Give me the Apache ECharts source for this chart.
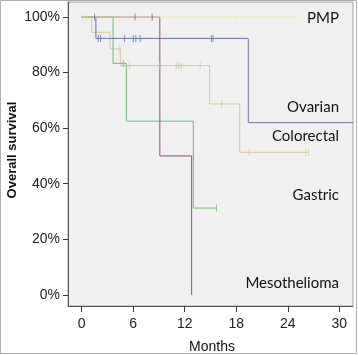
<!DOCTYPE html>
<html><head><meta charset="utf-8">
<script src="https://cdn.jsdelivr.net/npm/echarts@6/dist/echarts.min.js"></script>
<style>html,body{margin:0;padding:0;background:#fff}#c{width:358px;height:355px}</style>
</head><body><div id="c"></div>
<script>
// ---- data (months, overall survival %) ----
const xTicks = [0, 6, 12, 18, 24, 30];
const yTicks = [0, 20, 40, 60, 80, 100];

const pmpTimes = [0, 25.2];
const pmpSurv = [100, 100];
const pmpCensor = [0.2, 0.6, 18.0];

const ovarianTimes = [0, 1.65, 19.4, 31.6];
const ovarianSurv = [100, 92.3, 62, 62];
const ovarianCensor = [1.5, 1.93, 2.2, 5.0, 6.0, 6.3, 6.8, 15.1, 15.3];

const colorectalTimes = [0, 1.16, 3.3, 4.5, 14.9, 18.4, 26.4];
const colorectalSurv = [100, 94.5, 88.5, 82.5, 68.7, 51.3, 51.3];
const colorectalCensor = [4.45, 5.55, 9.1, 11.0, 11.3, 11.6, 13.8, 16.3, 19.5, 26.1, 26.4];

const gastricTimes = [0, 3.65, 5.2, 13.0, 15.7];
const gastricSurv = [100, 83.3, 62.5, 31.25, 31.25];
const gastricCensor = [4.85, 15.7];

const mesoTimes = [0, 9.1, 12.8];
const mesoSurv = [100, 50, 0];
const mesoCensor = [6.2, 8.2];

const groups = [
  {name: 'Colorectal', t: colorectalTimes, s: colorectalSurv, c: colorectalCensor, color: '#d6c79c'},
  {name: 'Gastric', t: gastricTimes, s: gastricSurv, c: gastricCensor, color: '#6cbf78'},
  {name: 'Ovarian', t: ovarianTimes, s: ovarianSurv, c: ovarianCensor, color: '#6a74a6'},
  {name: 'Mesothelioma', t: mesoTimes, s: mesoSurv, c: mesoCensor, color: '#8c4f88'},
  {name: 'PMP', t: pmpTimes, s: pmpSurv, c: pmpCensor, color: '#ecea98'}
];
const labelText = ['PMP', 'Ovarian', 'Colorectal', 'Gastric', 'Mesothelioma'];
const labelY = [18, 107, 136, 195, 283];

// survival level of a curve just before a given time (for censor marks)
function survAt(g, time) {
  let val = g.s[0];
  for (let i = 1; i < g.t.length; i++) if (g.t[i] < time) val = g.s[i];
  return val;
}

const series = [];
groups.forEach(g => {
  series.push({
    type: 'line', name: g.name, step: 'end', showSymbol: false, clip: true,
    data: g.t.map((t, i) => [t, g.s[i]]),
    lineStyle: {color: g.color, width: 1}, silent: true, z: 2
  });
});
groups.forEach(g => {
  series.push({
    type: 'scatter', name: g.name + ' censored', symbol: 'rect', symbolSize: [1, 7],
    data: g.c.map(t => [t, survAt(g, t)]),
    itemStyle: {color: g.color}, silent: true, z: 3
  });
});

const chart = echarts.init(document.getElementById('c'), null, {renderer: 'canvas'});
chart.setOption({
  animation: false,
  backgroundColor: '#ffffff',
  grid: {left: 68, right: 5, top: 2, bottom: 49, show: true, backgroundColor: '#f0f0f0', borderColor: '#a0a0a0', borderWidth: 1},
  xAxis: {
    type: 'value', min: -1.6, max: 31.6,
    axisLine: {show: true, onZero: false, lineStyle: {color: '#555', width: 1}},
    axisTick: {show: true, length: 6, customValues: xTicks, lineStyle: {color: '#333'}},
    axisLabel: {customValues: xTicks, margin: 11, fontSize: 14, color: '#222', fontFamily: 'Liberation Sans'},
    splitLine: {show: false}
  },
  yAxis: {
    type: 'value', min: -4, max: 105.4,
    axisLine: {show: true, onZero: false, lineStyle: {color: '#555', width: 1}},
    axisTick: {show: true, length: 5, customValues: yTicks, lineStyle: {color: '#333'}},
    axisLabel: {customValues: yTicks, margin: 8, fontSize: 14, color: '#222', fontFamily: 'Liberation Sans', formatter: v => v + '%'},
    splitLine: {show: false}
  },
  series: series,
  graphic: [
    {type: 'rect', shape: {x: 0.5, y: 0.5, width: 356, height: 353}, style: {fill: 'none', stroke: '#b0b0b0', lineWidth: 1}, silent: true},
    {type: 'text', x: 12, y: 150, rotation: Math.PI / 2, style: {text: 'Overall survival', font: 'bold 13px "Liberation Sans"', fill: '#111', align: 'center', verticalAlign: 'middle'}},
    {type: 'text', x: 212, y: 347, style: {text: 'Months', font: '14px "Liberation Sans"', fill: '#111', align: 'center', verticalAlign: 'middle'}}
  ].concat(labelText.map((t, i) => ({
    type: 'text', x: 339, y: labelY[i], style: {text: t, font: '15px Lato', fill: '#111', align: 'right', verticalAlign: 'middle'}
  })))
});
</script></body></html>
